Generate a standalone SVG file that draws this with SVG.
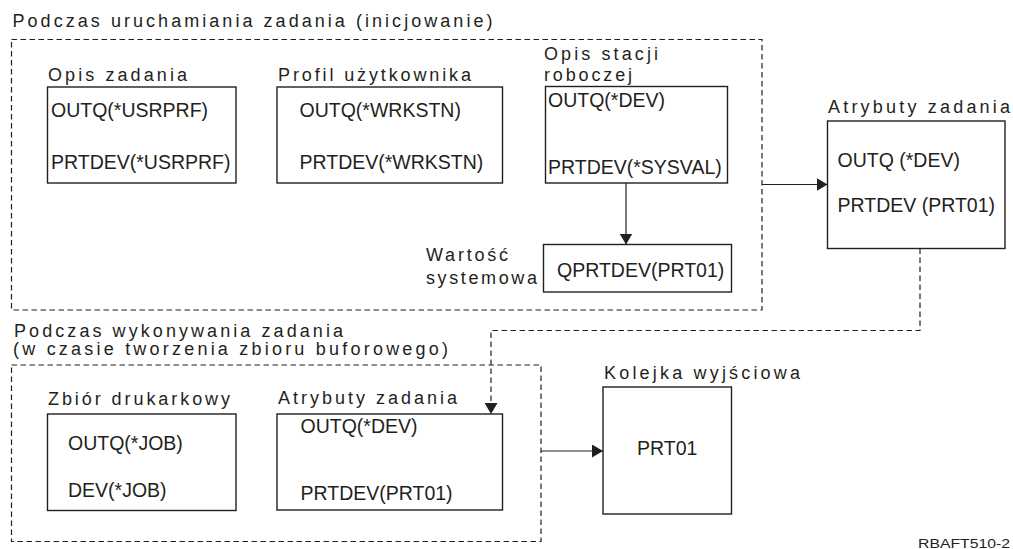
<svg xmlns="http://www.w3.org/2000/svg" width="1013" height="549" viewBox="0 0 1013 549">
<defs>
<style>
.lbl{font-family:"Liberation Sans",Arial,sans-serif;font-size:18px;fill:#231f20}
.val{font-family:"Liberation Sans",Arial,sans-serif;font-size:19.5px;fill:#231f20}
.box{fill:#fff;stroke:#231f20;stroke-width:1.4}
.grp{fill:none;stroke:#231f20;stroke-width:1.2;stroke-dasharray:5.5 3.5}
.conn{fill:none;stroke:#231f20;stroke-width:1.2}
.dconn{fill:none;stroke:#231f20;stroke-width:1.2;stroke-dasharray:5.5 3.5}
</style>
<marker id="ah" markerUnits="userSpaceOnUse" markerWidth="12" markerHeight="13" refX="11" refY="6.5" orient="auto">
<path d="M0,0 L11,6.5 L0,13 Z" fill="#231f20"/>
</marker>
</defs>
<rect width="1013" height="549" fill="#fff"/>

<g id="group-init">
<text class="lbl" x="12.5" y="27" textLength="480" lengthAdjust="spacing">Podczas uruchamiania zadania (inicjowanie)</text>
<rect class="grp" x="11.5" y="39.5" width="750.5" height="270.5"/>
</g>

<g id="group-run">
<text class="lbl" x="14" y="336.5" textLength="329" lengthAdjust="spacing">Podczas wykonywania zadania</text>
<text class="lbl" x="13" y="354.5" textLength="435" lengthAdjust="spacing">(w czasie tworzenia zbioru buforowego)</text>
<rect class="grp" x="11.5" y="365" width="529.5" height="176.5"/>
</g>

<g id="node-opis-zadania">
<text class="lbl" x="48" y="80.5" textLength="139" lengthAdjust="spacing">Opis zadania</text>
<rect class="box" x="47.5" y="87" width="188.5" height="96"/>
<text class="val" x="51" y="117">OUTQ(*USRPRF)</text>
<text class="val" x="51" y="168.5">PRTDEV(*USRPRF)</text>
</g>

<g id="node-profil">
<text class="lbl" x="278" y="80.5" textLength="193" lengthAdjust="spacing">Profil użytkownika</text>
<rect class="box" x="277" y="87" width="225.5" height="96"/>
<text class="val" x="299.5" y="117">OUTQ(*WRKSTN)</text>
<text class="val" x="299.5" y="168.5">PRTDEV(*WRKSTN)</text>
</g>

<g id="node-opis-stacji">
<text class="lbl" x="544" y="60" textLength="114" lengthAdjust="spacing">Opis stacji</text>
<text class="lbl" x="544" y="81" textLength="88" lengthAdjust="spacing">roboczej</text>
<rect class="box" x="545.5" y="86.5" width="182" height="96.5"/>
<text class="val" x="548" y="107">OUTQ(*DEV)</text>
<text class="val" x="548" y="174">PRTDEV(*SYSVAL)</text>
</g>

<g id="node-wartosc">
<text class="lbl" x="426" y="261" textLength="82" lengthAdjust="spacing">Wartość</text>
<text class="lbl" x="426" y="284" textLength="111" lengthAdjust="spacing">systemowa</text>
<rect class="box" x="543.5" y="244.5" width="188" height="47.5"/>
<text class="val" x="557" y="277">QPRTDEV(PRT01)</text>
</g>

<g id="node-atrybuty-top">
<text class="lbl" x="828" y="113" textLength="182" lengthAdjust="spacing">Atrybuty zadania</text>
<rect class="box" x="827.5" y="121" width="177.5" height="127.5"/>
<text class="val" x="837.5" y="167">OUTQ (*DEV)</text>
<text class="val" x="837.5" y="212">PRTDEV (PRT01)</text>
</g>

<g id="node-zbior">
<text class="lbl" x="48" y="405" textLength="182" lengthAdjust="spacing">Zbiór drukarkowy</text>
<rect class="box" x="47.5" y="414" width="188.5" height="96.5"/>
<text class="val" x="68" y="450">OUTQ(*JOB)</text>
<text class="val" x="68" y="496.5">DEV(*JOB)</text>
</g>

<g id="node-atrybuty-bottom">
<text class="lbl" x="278" y="404" textLength="179" lengthAdjust="spacing">Atrybuty zadania</text>
<rect class="box" x="277" y="414" width="225.5" height="96"/>
<text class="val" x="300.5" y="433">OUTQ(*DEV)</text>
<text class="val" x="300.5" y="500">PRTDEV(PRT01)</text>
</g>

<g id="node-kolejka">
<text class="lbl" x="604" y="379" textLength="196" lengthAdjust="spacing">Kolejka wyjściowa</text>
<rect class="box" x="603" y="387" width="128.5" height="127"/>
<text class="val" x="637" y="455">PRT01</text>
</g>

<g id="connectors">
<line class="conn" x1="626" y1="183" x2="626" y2="244.5" marker-end="url(#ah)"/>
<line class="conn" x1="762" y1="184.5" x2="827.5" y2="184.5" marker-end="url(#ah)"/>
<polyline class="dconn" points="920,248.5 920,330.5 491,330.5 491,414" marker-end="url(#ah)"/>
<line class="conn" x1="541" y1="451" x2="603" y2="451" marker-end="url(#ah)"/>
</g>

<text x="918" y="548" textLength="92" lengthAdjust="spacingAndGlyphs" style="font-family:'Liberation Sans',Arial,sans-serif;font-size:12px;fill:#231f20">RBAFT510-2</text>
</svg>
